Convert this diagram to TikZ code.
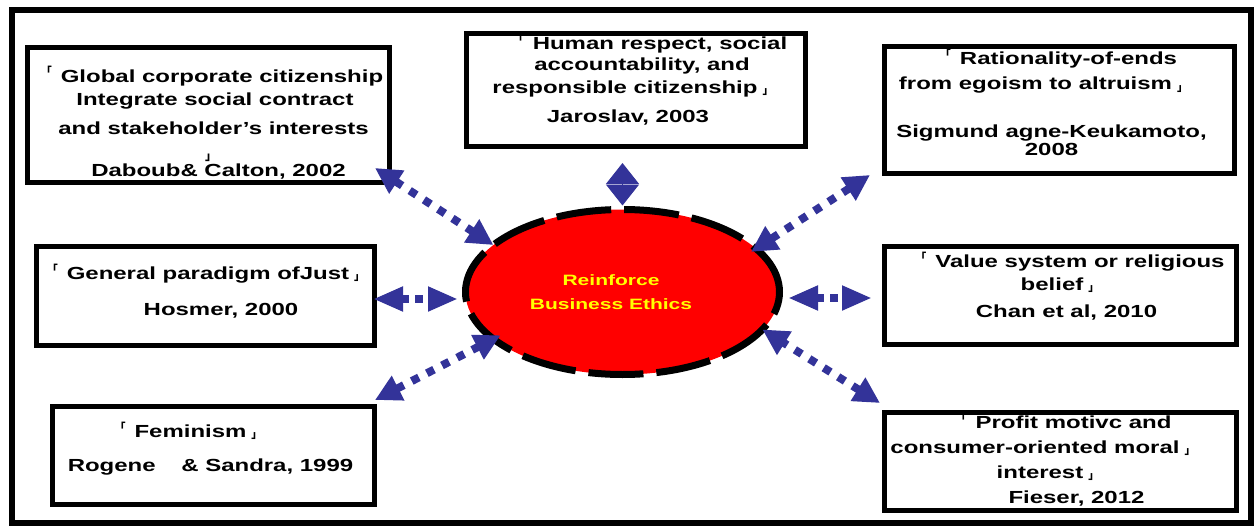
\documentclass[tikz,border=0pt]{standalone}
\usepackage{fontspec}
\setmainfont{Liberation Sans}
\newfontfamily\boxfont[FakeStretch=1.37]{Liberation Sans}
\newfontfamily\hubfont[FakeStretch=1.4]{Liberation Sans}
\newfontfamily\cjk{Noto Sans CJK SC}
\usetikzlibrary{arrows.meta,calc,shapes.geometric}
\definecolor{linkblue}{RGB}{51,51,153}
\definecolor{hubred}{RGB}{255,0,0}
\definecolor{hubyellow}{RGB}{255,255,0}
% corner quotation marks hung outside the line so the line itself stays centred
\newcommand\openq{\llap{\raisebox{6pt}{\cjk\bfseries\fontsize{11}{11}\selectfont 「}\hspace{9pt}}}
\newcommand\closeq{\rlap{\hspace{5pt}\raisebox{-1.5pt}{\cjk\bfseries\fontsize{11}{11}\selectfont 」}}}
\begin{document}
\begin{tikzpicture}[x=1pt,y=-1pt,
  card/.style={draw=black, line width=5pt, fill=white, rectangle, inner sep=0pt, outer sep=0pt},
  txt/.style={anchor=base, inner sep=0pt, font=\boxfont\bfseries\fontsize{17.5}{20}\selectfont},
  hub/.style={ellipse, draw=black, fill=hubred, line width=7pt, dash pattern=on 55pt off 13pt,
    minimum width=314pt, minimum height=165pt, inner sep=0pt, outer sep=0pt},
  hubtxt/.style={anchor=base, inner sep=0pt, align=center, text=hubyellow,
    font=\hubfont\bfseries\fontsize{15}{24}\selectfont},
  link/.style={draw=linkblue, line width=8pt, dash pattern=on 8pt off 9pt,
    {Triangle[length=26pt,width=26pt]}-{Triangle[length=26pt,width=26pt]}},
  hlink/.style={draw=linkblue, line width=8pt, dash pattern=on 8pt off 6pt,
    {Triangle[length=30pt,width=23pt]}-{Triangle[length=30pt,width=23pt]}},
  vlink/.style={draw=linkblue, line width=1pt,
    {Triangle[length=21pt,width=33pt]}-{Triangle[length=21pt,width=33pt]}}
]
\useasboundingbox (0,0) rectangle (1254,527);
\fill[white] (0,0) rectangle (1254,527);
% outer frame
\draw[line width=5.5pt] (12,10) rectangle (1251,523);

% central ellipse
\node[hub] (hub) at (622.5,292) {};
\node[hubtxt] (hublabel) at (611,309) {Reinforce\\Business Ethics};

% surrounding boxes
\node[card, minimum width=362pt, minimum height=135pt] (b1) at (208.5,115) {};
\node[card, minimum width=339pt, minimum height=113pt] (b2) at (636,90) {};
\node[card, minimum width=350pt, minimum height=127pt] (b3) at (1059.5,110) {};
\node[card, minimum width=338pt, minimum height=99pt] (b4) at (205.5,296) {};
\node[card, minimum width=322pt, minimum height=98pt] (b5) at (213.5,455.5) {};
\node[card, minimum width=352pt, minimum height=98pt] (b6) at (1060.5,295.5) {};
\node[card, minimum width=352pt, minimum height=98pt] (b7) at (1060.5,461.5) {};

% box texts
\node[txt] (t11) at (222,82) {\openq Global corporate citizenship};
\node[txt] (t12) at (215,106) {Integrate social contract};
\node[txt] (t13) at (213.5,135) {and stakeholder’s interests};
\node[anchor=base west, inner sep=0pt] (t14) at (205,160) {\cjk\bfseries\fontsize{12}{12}\selectfont 」};
\node[txt] (t15) at (218.5,176) {Daboub\& Calton, 2002};

\node[txt] (t21) at (660,49.5) {\openq Human respect, social};
\node[txt] (t22) at (642,71) {accountability, and};
\node[txt] (t23) at (625,93.5) {responsible citizenship\closeq};
\node[txt] (t24) at (628,122) {Jaroslav, 2003};

\node[txt] (t31) at (1068.5,65) {\openq Rationality-of-ends};
\node[txt] (t32) at (1035.5,90) {from egoism to altruism\closeq};
\node[txt] (t33) at (1051.5,137) {Sigmund agne-Keukamoto,};
\node[txt] (t34) at (1051.5,155.5) {2008};

\node[txt] (t41) at (208,279) {\openq General paradigm ofJust\closeq};
\node[txt] (t42) at (221,315) {Hosmer, 2000};

\node[txt] (t51) at (190.5,437) {\openq Feminism\closeq};
\node[txt] (t52) at (210.5,471) {Rogene\hspace{19pt} \& Sandra, 1999};

\node[txt] (t61) at (1080,267) {\openq Value system or religious};
\node[txt] (t62) at (1052,290) {belief\closeq};
\node[txt] (t63) at (1066.5,317) {Chan et al, 2010};

\node[txt] (t71) at (1073.5,428) {\openq Profit motivc and};
\node[txt] (t72) at (1035,453) {consumer-oriented moral\closeq};
\node[txt] (t73) at (1040,478) {interest\closeq};
\node[txt] (t74) at (1076.5,503) {Fieser, 2012};

% double-headed dotted connectors
\draw[link] ($(b1.south east)+(-14.5,-14.5)$) -- (hub.160);
\draw[vlink, shorten <=4pt, shorten >=16.5pt] (hub.north) -- (hub.north |- b2.south);
\draw[link, shorten >=-6pt] ($(b3.south west)+(-14.5,1.5)$) -- (hub.18);
\draw[hlink] ($(b4.east)+(-1.5,3)$) -- ($(hub.west)+(-7.5,7)$);
\draw[hlink] ($(hub.east)+(8.5,6)$) -- ($(b6.west)+(-12.5,2.5)$);
\draw[link, shorten >=-8pt] ($(b5.north east)+(0.5,-6.5)$) -- (hub.200);
\draw[link] ($(b7.north west)+(-4.5,-9.5)$) -- (hub.345);
\end{tikzpicture}
\end{document}
